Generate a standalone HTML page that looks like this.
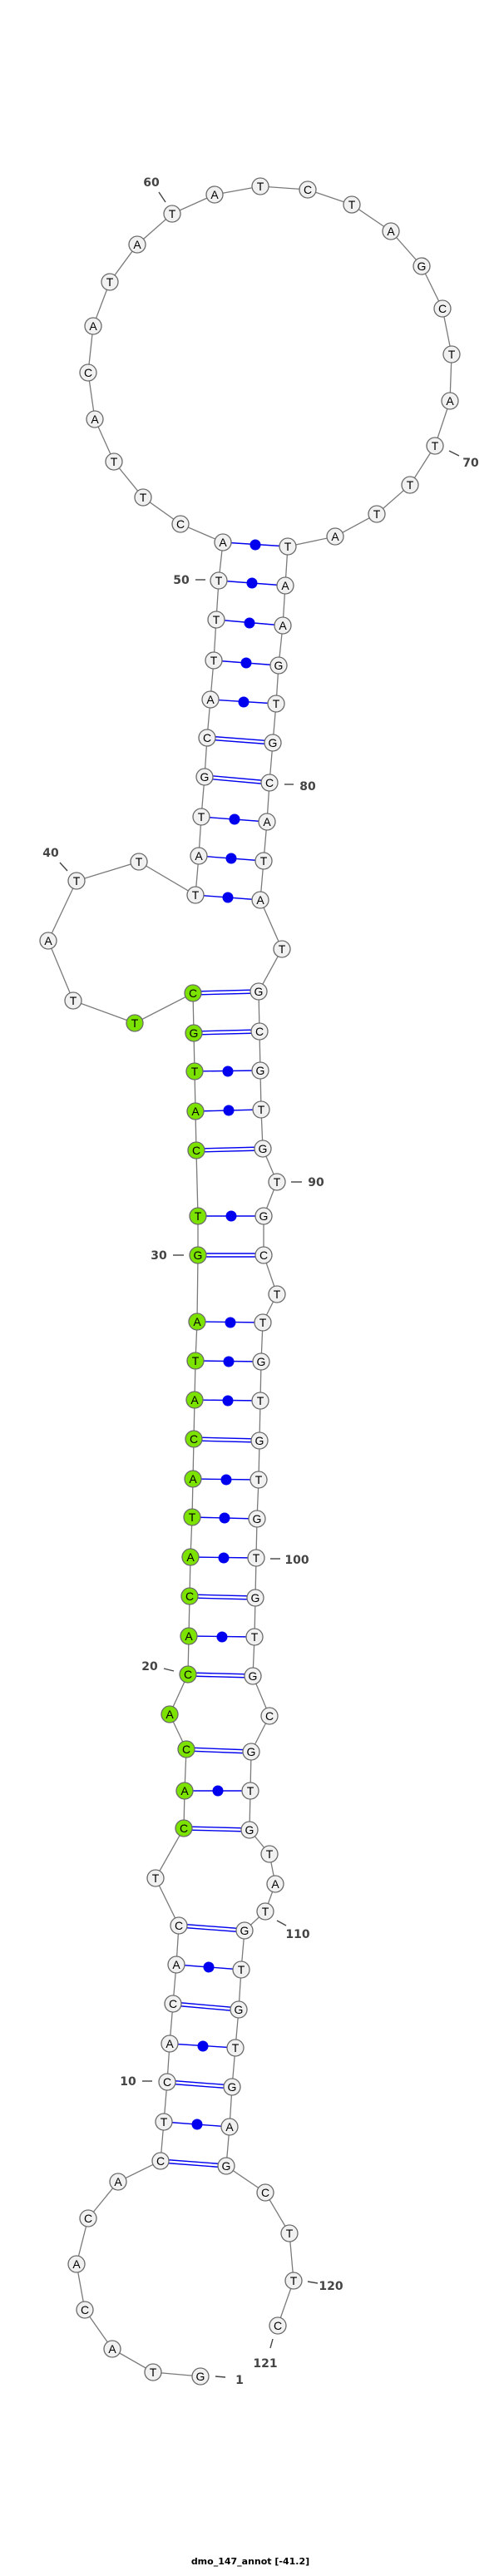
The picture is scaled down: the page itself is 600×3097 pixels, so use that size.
<!DOCTYPE html>
<html><head><meta charset="utf-8"><style>
html,body{margin:0;padding:0;background:#fff}
svg{display:block}
.n circle{fill:#f1f1f1;stroke:#6a6a6a;stroke-width:1.3}
.n .g{fill:#7ce300}
.n text{font-family:"Liberation Sans",sans-serif;font-size:14px;text-anchor:middle;fill:#000}
.lb{font-family:"DejaVu Sans","Liberation Sans",sans-serif;font-size:14px;fill:#444;font-weight:bold}
</style></head><body>
<svg width="600" height="3097" viewBox="0 0 600 3097" xmlns="http://www.w3.org/2000/svg">
<polyline fill="none" stroke="#7a7a7a" stroke-width="1.3" points="241,2857 184,2852 135,2824 102,2777 92,2722 106,2667 142,2623 193,2598 197,2551 201,2503 204,2457 208,2409 212,2362 215,2315 187,2258 221,2198 222,2153 224,2103 204,2061 226,2013 227,1967 228,1919 229,1872 231,1824 232,1778 233,1730 234,1683 235,1636 237,1589 238,1509 238,1462 236,1383 235,1336 234,1288 233,1242 232,1194 162,1230 88,1203 58,1131 92,1059 167,1036 235,1076 239,1029 242,982 246,934 249,887 253,841 257,794 260,745 263,698 268,652 217,630 172,598 137,555 114,504 106,448 112,392 132,339 165,294 207,257 258,234 313,224 370,228 423,246 470,278 507,320 532,371 543,426 541,482 523,536 493,583 453,618 403,645 346,657 343,704 340,752 335,800 332,846 328,893 324,941 321,988 317,1035 313,1082 339,1141 311,1192 312,1240 313,1287 314,1334 316,1381 333,1421 317,1462 317,1509 333,1556 316,1590 314,1637 313,1684 312,1732 311,1779 309,1826 308,1873 307,1921 306,1968 304,2015 324,2063 302,2106 301,2153 300,2200 324,2229 331,2265 319,2298 294,2321 290,2368 287,2416 283,2462 279,2509 276,2557 272,2604 319,2636 348,2685 353,2742 334,2796"/>
<g stroke="#0000ee" stroke-width="1.4">
<!-- double (GC) pairs -->
<line x1="193" y1="2596" x2="272" y2="2602"/><line x1="193" y1="2600" x2="272" y2="2606"/>
<line x1="201" y1="2501" x2="279" y2="2507"/><line x1="201" y1="2505" x2="279" y2="2511"/>
<line x1="208" y1="2407" x2="287" y2="2414"/><line x1="208" y1="2411" x2="287" y2="2418"/>
<line x1="215" y1="2313" x2="294" y2="2319"/><line x1="215" y1="2317" x2="294" y2="2323"/>
<line x1="221" y1="2196" x2="300" y2="2198"/><line x1="221" y1="2200" x2="300" y2="2202"/>
<line x1="224" y1="2101" x2="302" y2="2104"/><line x1="224" y1="2105" x2="302" y2="2108"/>
<line x1="226" y1="2011" x2="304" y2="2013"/><line x1="226" y1="2015" x2="304" y2="2017"/>
<line x1="228" y1="1917" x2="307" y2="1919"/><line x1="228" y1="1921" x2="307" y2="1923"/>
<line x1="233" y1="1728" x2="312" y2="1730"/><line x1="233" y1="1732" x2="312" y2="1734"/>
<line x1="238" y1="1507" x2="317" y2="1507"/><line x1="238" y1="1511" x2="317" y2="1511"/>
<line x1="236" y1="1381" x2="316" y2="1379"/><line x1="236" y1="1385" x2="316" y2="1383"/>
<line x1="233" y1="1240" x2="312" y2="1238"/><line x1="233" y1="1244" x2="312" y2="1242"/>
<line x1="232" y1="1192" x2="311" y2="1190"/><line x1="232" y1="1196" x2="311" y2="1194"/>
<line x1="246" y1="932" x2="324" y2="939"/><line x1="246" y1="936" x2="324" y2="943"/>
<line x1="249" y1="885" x2="328" y2="891"/><line x1="249" y1="889" x2="328" y2="895"/>
<!-- single pairs -->
<line x1="197" y1="2551" x2="276" y2="2557"/>
<line x1="204" y1="2457" x2="283" y2="2462"/>
<line x1="212" y1="2362" x2="290" y2="2368"/>
<line x1="222" y1="2153" x2="301" y2="2153"/>
<line x1="227" y1="1967" x2="306" y2="1968"/>
<line x1="229" y1="1872" x2="308" y2="1873"/>
<line x1="231" y1="1824" x2="309" y2="1826"/>
<line x1="232" y1="1778" x2="311" y2="1779"/>
<line x1="234" y1="1683" x2="313" y2="1684"/>
<line x1="235" y1="1636" x2="314" y2="1637"/>
<line x1="237" y1="1589" x2="316" y2="1590"/>
<line x1="238" y1="1462" x2="317" y2="1462"/>
<line x1="235" y1="1336" x2="314" y2="1334"/>
<line x1="234" y1="1288" x2="313" y2="1287"/>
<line x1="235" y1="1076" x2="313" y2="1082"/>
<line x1="239" y1="1029" x2="317" y2="1035"/>
<line x1="242" y1="982" x2="321" y2="988"/>
<line x1="253" y1="841" x2="332" y2="846"/>
<line x1="257" y1="794" x2="335" y2="800"/>
<line x1="260" y1="745" x2="340" y2="752"/>
<line x1="263" y1="698" x2="343" y2="704"/>
<line x1="268" y1="652" x2="346" y2="657"/>
</g>
<g fill="#0000ee">
<circle cx="237" cy="2554" r="6.5"/><circle cx="244" cy="2460" r="6.5"/><circle cx="251" cy="2365" r="6.5"/>
<circle cx="262" cy="2153" r="6.5"/><circle cx="267" cy="1968" r="6.5"/><circle cx="269" cy="1873" r="6.5"/>
<circle cx="270" cy="1825" r="6.5"/><circle cx="272" cy="1779" r="6.5"/><circle cx="274" cy="1684" r="6.5"/>
<circle cx="275" cy="1637" r="6.5"/><circle cx="277" cy="1590" r="6.5"/><circle cx="278" cy="1462" r="6.5"/>
<circle cx="275" cy="1335" r="6.5"/><circle cx="274" cy="1288" r="6.5"/><circle cx="274" cy="1079" r="6.5"/>
<circle cx="278" cy="1032" r="6.5"/><circle cx="282" cy="985" r="6.5"/><circle cx="293" cy="844" r="6.5"/>
<circle cx="296" cy="797" r="6.5"/><circle cx="300" cy="749" r="6.5"/><circle cx="303" cy="701" r="6.5"/>
<circle cx="307" cy="655" r="6.5"/>
</g>
<g class="n">
<circle cx="241" cy="2857" r="10"/><text x="241" y="2862">G</text>
<circle cx="184" cy="2852" r="10"/><text x="184" y="2857">T</text>
<circle cx="135" cy="2824" r="10"/><text x="135" y="2829">A</text>
<circle cx="102" cy="2777" r="10"/><text x="102" y="2782">C</text>
<circle cx="92" cy="2722" r="10"/><text x="92" y="2727">A</text>
<circle cx="106" cy="2667" r="10"/><text x="106" y="2672">C</text>
<circle cx="142" cy="2623" r="10"/><text x="142" y="2628">A</text>
<circle cx="193" cy="2598" r="10"/><text x="193" y="2603">C</text>
<circle cx="197" cy="2551" r="10"/><text x="197" y="2556">T</text>
<circle cx="201" cy="2503" r="10"/><text x="201" y="2508">C</text>
<circle cx="204" cy="2457" r="10"/><text x="204" y="2462">A</text>
<circle cx="208" cy="2409" r="10"/><text x="208" y="2414">C</text>
<circle cx="212" cy="2362" r="10"/><text x="212" y="2367">A</text>
<circle cx="215" cy="2315" r="10"/><text x="215" y="2320">C</text>
<circle cx="187" cy="2258" r="10"/><text x="187" y="2263">T</text>
<circle class="g" cx="221" cy="2198" r="10"/><text x="221" y="2203">C</text>
<circle class="g" cx="222" cy="2153" r="10"/><text x="222" y="2158">A</text>
<circle class="g" cx="224" cy="2103" r="10"/><text x="224" y="2108">C</text>
<circle class="g" cx="204" cy="2061" r="10"/><text x="204" y="2066">A</text>
<circle class="g" cx="226" cy="2013" r="10"/><text x="226" y="2018">C</text>
<circle class="g" cx="227" cy="1967" r="10"/><text x="227" y="1972">A</text>
<circle class="g" cx="228" cy="1919" r="10"/><text x="228" y="1924">C</text>
<circle class="g" cx="229" cy="1872" r="10"/><text x="229" y="1877">A</text>
<circle class="g" cx="231" cy="1824" r="10"/><text x="231" y="1829">T</text>
<circle class="g" cx="232" cy="1778" r="10"/><text x="232" y="1783">A</text>
<circle class="g" cx="233" cy="1730" r="10"/><text x="233" y="1735">C</text>
<circle class="g" cx="234" cy="1683" r="10"/><text x="234" y="1688">A</text>
<circle class="g" cx="235" cy="1636" r="10"/><text x="235" y="1641">T</text>
<circle class="g" cx="237" cy="1589" r="10"/><text x="237" y="1594">A</text>
<circle class="g" cx="238" cy="1509" r="10"/><text x="238" y="1514">G</text>
<circle class="g" cx="238" cy="1462" r="10"/><text x="238" y="1467">T</text>
<circle class="g" cx="236" cy="1383" r="10"/><text x="236" y="1388">C</text>
<circle class="g" cx="235" cy="1336" r="10"/><text x="235" y="1341">A</text>
<circle class="g" cx="234" cy="1288" r="10"/><text x="234" y="1293">T</text>
<circle class="g" cx="233" cy="1242" r="10"/><text x="233" y="1247">G</text>
<circle class="g" cx="232" cy="1194" r="10"/><text x="232" y="1199">C</text>
<circle class="g" cx="162" cy="1230" r="10"/><text x="162" y="1235">T</text>
<circle cx="88" cy="1203" r="10"/><text x="88" y="1208">T</text>
<circle cx="58" cy="1131" r="10"/><text x="58" y="1136">A</text>
<circle cx="92" cy="1059" r="10"/><text x="92" y="1064">T</text>
<circle cx="167" cy="1036" r="10"/><text x="167" y="1041">T</text>
<circle cx="235" cy="1076" r="10"/><text x="235" y="1081">T</text>
<circle cx="239" cy="1029" r="10"/><text x="239" y="1034">A</text>
<circle cx="242" cy="982" r="10"/><text x="242" y="987">T</text>
<circle cx="246" cy="934" r="10"/><text x="246" y="939">G</text>
<circle cx="249" cy="887" r="10"/><text x="249" y="892">C</text>
<circle cx="253" cy="841" r="10"/><text x="253" y="846">A</text>
<circle cx="257" cy="794" r="10"/><text x="257" y="799">T</text>
<circle cx="260" cy="745" r="10"/><text x="260" y="750">T</text>
<circle cx="263" cy="698" r="10"/><text x="263" y="703">T</text>
<circle cx="268" cy="652" r="10"/><text x="268" y="657">A</text>
<circle cx="217" cy="630" r="10"/><text x="217" y="635">C</text>
<circle cx="172" cy="598" r="10"/><text x="172" y="603">T</text>
<circle cx="137" cy="555" r="10"/><text x="137" y="560">T</text>
<circle cx="114" cy="504" r="10"/><text x="114" y="509">A</text>
<circle cx="106" cy="448" r="10"/><text x="106" y="453">C</text>
<circle cx="112" cy="392" r="10"/><text x="112" y="397">A</text>
<circle cx="132" cy="339" r="10"/><text x="132" y="344">T</text>
<circle cx="165" cy="294" r="10"/><text x="165" y="299">A</text>
<circle cx="207" cy="257" r="10"/><text x="207" y="262">T</text>
<circle cx="258" cy="234" r="10"/><text x="258" y="239">A</text>
<circle cx="313" cy="224" r="10"/><text x="313" y="229">T</text>
<circle cx="370" cy="228" r="10"/><text x="370" y="233">C</text>
<circle cx="423" cy="246" r="10"/><text x="423" y="251">T</text>
<circle cx="470" cy="278" r="10"/><text x="470" y="283">A</text>
<circle cx="507" cy="320" r="10"/><text x="507" y="325">G</text>
<circle cx="532" cy="371" r="10"/><text x="532" y="376">C</text>
<circle cx="543" cy="426" r="10"/><text x="543" y="431">T</text>
<circle cx="541" cy="482" r="10"/><text x="541" y="487">A</text>
<circle cx="523" cy="536" r="10"/><text x="523" y="541">T</text>
<circle cx="493" cy="583" r="10"/><text x="493" y="588">T</text>
<circle cx="453" cy="618" r="10"/><text x="453" y="623">T</text>
<circle cx="403" cy="645" r="10"/><text x="403" y="650">A</text>
<circle cx="346" cy="657" r="10"/><text x="346" y="662">T</text>
<circle cx="343" cy="704" r="10"/><text x="343" y="709">A</text>
<circle cx="340" cy="752" r="10"/><text x="340" y="757">A</text>
<circle cx="335" cy="800" r="10"/><text x="335" y="805">G</text>
<circle cx="332" cy="846" r="10"/><text x="332" y="851">T</text>
<circle cx="328" cy="893" r="10"/><text x="328" y="898">G</text>
<circle cx="324" cy="941" r="10"/><text x="324" y="946">C</text>
<circle cx="321" cy="988" r="10"/><text x="321" y="993">A</text>
<circle cx="317" cy="1035" r="10"/><text x="317" y="1040">T</text>
<circle cx="313" cy="1082" r="10"/><text x="313" y="1087">A</text>
<circle cx="339" cy="1141" r="10"/><text x="339" y="1146">T</text>
<circle cx="311" cy="1192" r="10"/><text x="311" y="1197">G</text>
<circle cx="312" cy="1240" r="10"/><text x="312" y="1245">C</text>
<circle cx="313" cy="1287" r="10"/><text x="313" y="1292">G</text>
<circle cx="314" cy="1334" r="10"/><text x="314" y="1339">T</text>
<circle cx="316" cy="1381" r="10"/><text x="316" y="1386">G</text>
<circle cx="333" cy="1421" r="10"/><text x="333" y="1426">T</text>
<circle cx="317" cy="1462" r="10"/><text x="317" y="1467">G</text>
<circle cx="317" cy="1509" r="10"/><text x="317" y="1514">C</text>
<circle cx="333" cy="1556" r="10"/><text x="333" y="1561">T</text>
<circle cx="316" cy="1590" r="10"/><text x="316" y="1595">T</text>
<circle cx="314" cy="1637" r="10"/><text x="314" y="1642">G</text>
<circle cx="313" cy="1684" r="10"/><text x="313" y="1689">T</text>
<circle cx="312" cy="1732" r="10"/><text x="312" y="1737">G</text>
<circle cx="311" cy="1779" r="10"/><text x="311" y="1784">T</text>
<circle cx="309" cy="1826" r="10"/><text x="309" y="1831">G</text>
<circle cx="308" cy="1873" r="10"/><text x="308" y="1878">T</text>
<circle cx="307" cy="1921" r="10"/><text x="307" y="1926">G</text>
<circle cx="306" cy="1968" r="10"/><text x="306" y="1973">T</text>
<circle cx="304" cy="2015" r="10"/><text x="304" y="2020">G</text>
<circle cx="324" cy="2063" r="10"/><text x="324" y="2068">C</text>
<circle cx="302" cy="2106" r="10"/><text x="302" y="2111">G</text>
<circle cx="301" cy="2153" r="10"/><text x="301" y="2158">T</text>
<circle cx="300" cy="2200" r="10"/><text x="300" y="2205">G</text>
<circle cx="324" cy="2229" r="10"/><text x="324" y="2234">T</text>
<circle cx="331" cy="2265" r="10"/><text x="331" y="2270">A</text>
<circle cx="319" cy="2298" r="10"/><text x="319" y="2303">T</text>
<circle cx="294" cy="2321" r="10"/><text x="294" y="2326">G</text>
<circle cx="290" cy="2368" r="10"/><text x="290" y="2373">T</text>
<circle cx="287" cy="2416" r="10"/><text x="287" y="2421">G</text>
<circle cx="283" cy="2462" r="10"/><text x="283" y="2467">T</text>
<circle cx="279" cy="2509" r="10"/><text x="279" y="2514">G</text>
<circle cx="276" cy="2557" r="10"/><text x="276" y="2562">A</text>
<circle cx="272" cy="2604" r="10"/><text x="272" y="2609">G</text>
<circle cx="319" cy="2636" r="10"/><text x="319" y="2641">C</text>
<circle cx="348" cy="2685" r="10"/><text x="348" y="2690">T</text>
<circle cx="353" cy="2742" r="10"/><text x="353" y="2747">T</text>
<circle cx="334" cy="2796" r="10"/><text x="334" y="2801">C</text>
</g>
<g stroke="#444" stroke-width="1.4">
<line x1="191" y1="231" x2="199" y2="243"/>
<line x1="540" y1="542" x2="552" y2="548"/>
<line x1="235" y1="697" x2="247" y2="697"/>
<line x1="72" y1="1037" x2="81" y2="1047"/>
<line x1="342" y1="943" x2="353" y2="943"/>
<line x1="350" y1="1421" x2="363" y2="1421"/>
<line x1="208" y1="1509" x2="221" y2="1509"/>
<line x1="325" y1="1874" x2="337" y2="1874"/>
<line x1="197" y1="2006" x2="209" y2="2009"/>
<line x1="333" y1="2309" x2="344" y2="2315"/>
<line x1="171" y1="2502" x2="183" y2="2502"/>
<line x1="370" y1="2743" x2="382" y2="2745"/>
<line x1="328" y1="2812" x2="325" y2="2823"/>
<line x1="259" y1="2857" x2="271" y2="2858"/>
</g>
<g class="lb">
<text x="182" y="224" text-anchor="middle">60</text>
<text x="566" y="561" text-anchor="middle">70</text>
<text x="218" y="702" text-anchor="middle">50</text>
<text x="61" y="1030" text-anchor="middle">40</text>
<text x="370" y="950" text-anchor="middle">80</text>
<text x="380" y="1426" text-anchor="middle">90</text>
<text x="191" y="1514" text-anchor="middle">30</text>
<text x="357" y="1880" text-anchor="middle">100</text>
<text x="180" y="2008" text-anchor="middle">20</text>
<text x="358" y="2330" text-anchor="middle">110</text>
<text x="154" y="2507" text-anchor="middle">10</text>
<text x="398" y="2753" text-anchor="middle">120</text>
<text x="319" y="2846" text-anchor="middle">121</text>
<text x="288" y="2866" text-anchor="middle">1</text>
</g>
<text x="301" y="3083" text-anchor="middle" style="font-family:'DejaVu Sans','Liberation Sans',sans-serif;font-size:11px;font-weight:bold;fill:#000">dmo_147_annot [-41.2]</text>
</svg>
</body></html>
